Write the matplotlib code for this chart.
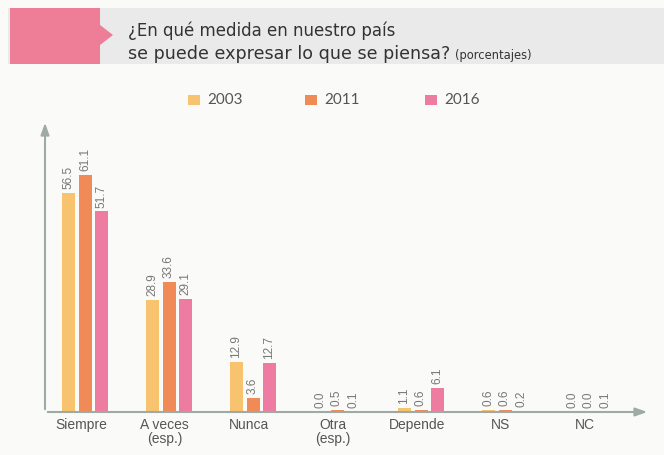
import numpy as np
import matplotlib.pyplot as plt
from matplotlib.patches import Rectangle, Polygon

categories = ['Siempre', 'A veces\n(esp.)', 'Nunca', 'Otra\n(esp.)', 'Depende', 'NS', 'NC']
years = ['2003', '2011', '2016']
v2003 = [56.5, 28.9, 12.9, 0.0, 1.1, 0.6, 0.0]
v2011 = [61.1, 33.6, 3.6, 0.5, 0.6, 0.6, 0.0]
v2016 = [51.7, 29.1, 12.7, 0.1, 6.1, 0.2, 0.1]
colors = ['#F8C36E', '#F08B57', '#EE7BA1']

plt.rcParams['font.family'] = ['Lato', 'DejaVu Sans']

W, H = 664, 455
fig = plt.figure(figsize=(W / 100, H / 100), dpi=100)
fig.patch.set_facecolor('#FAFAF8')

def fx(px):
    return px / W

def fy(py):
    return 1 - py / H

# header band
fig.patches.append(Rectangle((fx(8), fy(64)), fx(656), 56 / H, transform=fig.transFigure,
                             facecolor='#E9EAE9', edgecolor='none'))
pink = [(10, 8), (100, 8), (100, 25), (113, 35), (100, 45), (100, 64), (10, 64)]
fig.patches.append(Polygon([(fx(x), fy(y)) for x, y in pink], closed=True,
                           transform=fig.transFigure, facecolor='#EE7D97', edgecolor='none'))
tfont = ['DejaVu Sans']
fig.text(fx(128), fy(36), '¿En qué medida en nuestro país', fontsize=12, color='#333333',
         va='baseline', family=tfont)
t2 = fig.text(fx(128), fy(59), 'se puede expresar lo que se piensa?', fontsize=12.6, color='#333333',
              va='baseline', family=tfont)
fig.canvas.draw()
bb = t2.get_window_extent()
fig.text((bb.x1 + 5) / W, fy(59), '(porcentajes)', fontsize=8.3, color='#333333',
         va='baseline', family=tfont)

# axes
x0, x1, ytop, ybase = 45, 650, 120, 412
ax = fig.add_axes([fx(x0), fy(ybase), (x1 - x0) / W, (ybase - ytop) / H])
ax.set_facecolor('none')
for s in ax.spines.values():
    s.set_visible(False)

gap = 84.0
ax.set_xlim((x0 - 85) / gap, (x1 - 85) / gap)
ax.set_ylim(0, (ybase - ytop) / 3.88)

x = np.arange(len(categories))
bw = 13 / gap
off = 16.5 / gap
for i, (vals, c) in enumerate(zip([v2003, v2011, v2016], colors)):
    xs = x + (i - 1) * off
    ax.bar(xs, vals, width=bw, color=c, zorder=2)
    for xi, v in zip(xs, vals):
        ax.text(xi, v + 1.0, f'{v:.1f}', rotation=90, ha='center', va='bottom',
                fontsize=8.5, color='#777777', family=['Liberation Sans', 'DejaVu Sans'])

ax.set_xticks(x - 0.05)
ax.set_xticklabels(categories, fontsize=10, color='#555555', family=['Liberation Sans', 'DejaVu Sans'],
                   linespacing=1.0)
ax.tick_params(axis='x', length=0, pad=4)
ax.set_yticks([])

axis_col = '#9FAAA4'
ax.annotate('', xy=(1.0, 0), xytext=(0, 0), xycoords='axes fraction',
            arrowprops=dict(arrowstyle='-|>,head_length=0.7,head_width=0.25', color=axis_col, lw=1.5))
ax.annotate('', xy=(0, 1.0), xytext=(0, 0), xycoords='axes fraction',
            arrowprops=dict(arrowstyle='-|>,head_length=0.7,head_width=0.25', color=axis_col, lw=1.5))

# legend
for lx, yr, c in zip([188, 305, 425], years, colors):
    fig.patches.append(Rectangle((fx(lx), fy(105)), 12 / W, 10 / H, transform=fig.transFigure,
                                 facecolor=c, edgecolor='none'))
    fig.text(fx(lx + 19), fy(100), yr, fontsize=11, color='#555555', va='center')

fig.savefig('out.png', dpi=100, facecolor=fig.get_facecolor())
